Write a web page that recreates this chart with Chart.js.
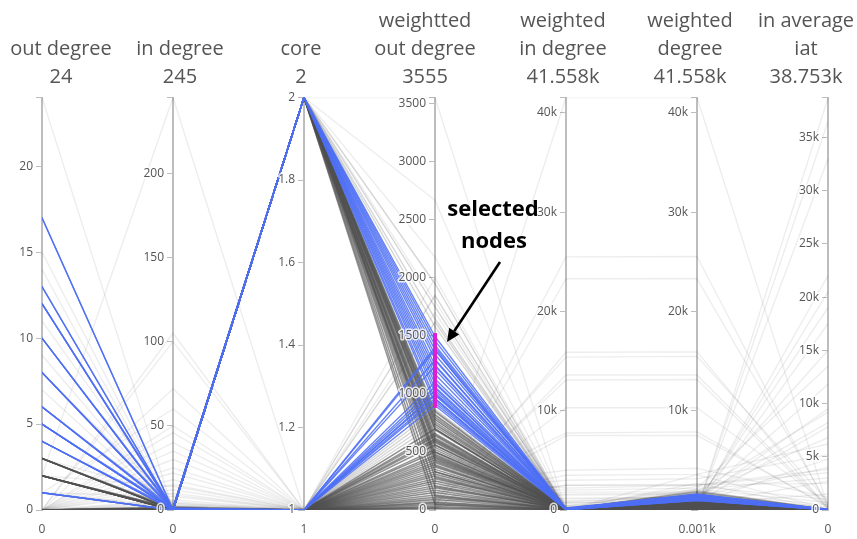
<!DOCTYPE html>
<html>
<head>
<meta charset="utf-8">
<script src="https://cdn.jsdelivr.net/npm/chart.js@4.4.1/dist/chart.umd.min.js"></script>
<style>
  html, body { margin: 0; padding: 0; background: #ffffff; }
  #wrap { width: 857px; height: 539px; }
</style>
</head>
<body>
<div id="wrap"><canvas id="chart" width="857" height="539"></canvas></div>
<script>
// Axis definitions (one entry per parallel axis, left to right)
const axisNames = [["out degree"], ["in degree"], ["core"], ["weightted", "out degree"],
                   ["weighted", "in degree"], ["weighted", "degree"], ["in average", "iat"]];
const axisMin = [0, 0, 1, 0, 0, 1, 0];
const axisMax = [24, 245, 2, 3555, 41558, 41558, 38753];
const tickStep = [5, 50, 0.2, 500, 10000, 10000, 5000];
const thousandsAxis = [false, false, false, false, true, true, true];

// Brushed interval on "weighted out degree"
const brushRange = [880, 1525];

// Each row: out degree, in degree, core, weighted out, weighted in, weighted degree, in average iat
const selectedNodes = [
  [17, 0, 2, 1495, 120, 1615, 30],
  [13, 0, 2, 1460, 80, 1540, 60],
  [12, 1, 2, 1420, 150, 1570, 20],
  [10, 0, 2, 1380, 60, 1440, 45],
  [8, 0, 2, 1340, 200, 1540, 80],
  [6, 1, 2, 1300, 90, 1390, 15],
  [5, 0, 2, 1250, 110, 1360, 35],
  [4, 0, 2, 1210, 40, 1250, 50],
  [4, 1, 2, 1170, 130, 1300, 25],
  [1, 0, 2, 1130, 70, 1200, 10],
  [12, 0, 2, 1090, 160, 1250, 40],
  [8, 1, 2, 1050, 50, 1100, 70],
  [6, 0, 2, 1010, 100, 1110, 30],
  [5, 0, 2, 960, 30, 990, 20],
  [10, 0, 2, 920, 140, 1060, 55],
  [4, 0, 1, 1400, 90, 1490, 40],
  [5, 0, 1, 1380, 60, 1440, 25],
  [1, 0, 1, 1290, 120, 1410, 35],
  [6, 0, 1, 1240, 40, 1280, 60],
  [8, 0, 1, 1100, 80, 1180, 20],
  [10, 1, 1, 1060, 150, 1210, 45],
  [12, 0, 1, 1030, 30, 1060, 15],
  [4, 0, 1, 1000, 110, 1110, 50],
  [13, 0, 1, 990, 60, 1050, 30],
  [17, 0, 1, 960, 20, 980, 10],
  [5, 1, 1, 940, 90, 1030, 40],
  [1, 0, 1, 900, 50, 950, 25]
];

const denseNodes = [
  [0, 0, 2, 850, 40, 890, 20], [0, 0, 2, 800, 100, 900, 60], [3, 0, 2, 760, 20, 780, 10],
  [0, 0, 2, 720, 150, 870, 40], [2, 0, 2, 690, 60, 750, 30], [0, 1, 2, 650, 30, 680, 80],
  [0, 0, 2, 620, 200, 820, 15], [3, 0, 2, 580, 90, 670, 50], [0, 0, 2, 540, 10, 550, 25],
  [2, 1, 2, 500, 120, 620, 70], [0, 0, 2, 460, 50, 510, 35], [0, 0, 2, 420, 80, 500, 20],
  [3, 1, 2, 380, 30, 410, 45], [0, 0, 2, 330, 160, 490, 10], [0, 0, 2, 280, 20, 300, 30],
  [2, 0, 2, 200, 70, 270, 55], [0, 0, 2, 120, 40, 160, 15], [0, 0, 2, 50, 10, 60, 5],
  [0, 0, 2, 600, 40, 640, 25], [0, 0, 2, 560, 120, 680, 45], [0, 0, 2, 700, 30, 730, 18],
  [2, 0, 2, 740, 80, 820, 36], [0, 0, 2, 780, 60, 840, 22], [0, 0, 2, 820, 10, 830, 12],
  [0, 1, 2, 480, 25, 505, 30], [0, 0, 2, 440, 140, 580, 40],
  [0, 0, 1, 700, 60, 760, 30], [0, 0, 1, 660, 20, 680, 10], [2, 0, 1, 610, 110, 720, 45],
  [0, 1, 1, 560, 40, 600, 20], [0, 0, 1, 520, 90, 610, 60], [3, 0, 1, 470, 30, 500, 15],
  [0, 0, 1, 430, 150, 580, 35], [0, 0, 1, 390, 10, 400, 25], [0, 2, 1, 350, 60, 410, 50],
  [2, 0, 1, 310, 20, 330, 10], [0, 0, 1, 270, 80, 350, 40], [0, 0, 1, 230, 30, 260, 20],
  [0, 1, 1, 190, 120, 310, 65], [3, 0, 1, 150, 10, 160, 5], [0, 0, 1, 110, 50, 160, 30],
  [0, 0, 1, 70, 20, 90, 10], [0, 0, 1, 30, 5, 35, 15], [2, 0, 1, 10, 0, 10, 0],
  [0, 0, 1, 20, 10, 30, 5], [0, 0, 1, 45, 0, 45, 10], [0, 1, 1, 60, 30, 90, 20],
  [0, 0, 1, 90, 15, 105, 8], [2, 0, 1, 130, 40, 170, 12], [0, 0, 1, 170, 25, 195, 30],
  [0, 0, 1, 210, 60, 270, 18], [0, 1, 1, 250, 10, 260, 22], [3, 0, 1, 290, 45, 335, 40],
  [0, 0, 1, 330, 20, 350, 12], [0, 0, 1, 370, 70, 440, 28], [0, 0, 1, 410, 35, 445, 16],
  [2, 1, 1, 450, 90, 540, 50], [0, 0, 1, 500, 15, 515, 20], [0, 0, 1, 590, 50, 640, 35],
  [0, 0, 1, 640, 25, 665, 14]
];

const mediumNodes = [
  [0, 0, 2, 870, 30, 900, 40], [1, 0, 2, 840, 90, 930, 20], [0, 0, 2, 790, 20, 810, 60],
  [0, 1, 1, 860, 50, 910, 30], [0, 0, 1, 820, 120, 940, 15], [2, 0, 1, 780, 30, 810, 45],
  [0, 0, 1, 740, 70, 810, 20], [0, 0, 2, 1580, 40, 1620, 35], [1, 0, 2, 1650, 100, 1750, 60],
  [0, 0, 1, 1620, 20, 1640, 25], [0, 0, 2, 1750, 60, 1810, 10], [0, 0, 1, 1850, 30, 1880, 50],
  [3, 0, 2, 1950, 10, 1960, 20]
];

const sparseNodes = [
  [24, 0, 2, 1800, 20, 1820, 150],
  [2, 245, 1, 60, 41558, 41558, 300],
  [0, 105, 1, 40, 25500, 25540, 200],
  [0, 100, 1, 20, 23300, 23320, 500],
  [0, 72, 1, 30, 15900, 15930, 100],
  [1, 60, 1, 80, 15400, 15480, 800],
  [0, 50, 1, 10, 13600, 13610, 300],
  [0, 46, 1, 50, 13100, 13150, 150],
  [0, 40, 1, 0, 10300, 10300, 600],
  [0, 35, 1, 120, 7750, 7870, 250],
  [0, 30, 1, 20, 7500, 7520, 400],
  [0, 25, 1, 200, 4000, 4200, 1200],
  [0, 22, 1, 60, 2500, 2560, 2500],
  [0, 18, 1, 300, 2200, 2500, 3500],
  [0, 15, 1, 150, 3000, 3150, 5200],
  [0, 12, 1, 80, 1500, 1580, 6800],
  [0, 10, 1, 400, 900, 1300, 8200],
  [1, 8, 1, 250, 700, 950, 9500],
  [15, 2, 2, 2670, 30, 2700, 80],
  [14, 0, 2, 2180, 200, 2380, 1000],
  [11, 3, 1, 1700, 400, 2100, 700],
  [9, 1, 1, 2000, 100, 2100, 3000],
  [7, 0, 2, 3555, 10, 3565, 100],
  [0, 2, 1, 5, 0, 5, 38700],
  [1, 0, 1, 20, 30, 50, 36500],
  [0, 1, 1, 10, 60, 70, 33000],
  [2, 0, 1, 100, 200, 300, 22000],
  [0, 0, 1, 50, 500, 550, 20500],
  [3, 1, 1, 150, 300, 450, 17500],
  [1, 1, 1, 80, 1200, 1280, 15000],
  [0, 3, 1, 200, 2000, 2200, 13500],
  [2, 0, 1, 300, 700, 1000, 11800],
  [0, 5, 1, 30, 1800, 1830, 9200],
  [1, 2, 1, 500, 300, 800, 7800],
  [0, 4, 1, 90, 3500, 3590, 6200],
  [4, 0, 1, 600, 100, 700, 4800],
  [0, 6, 1, 20, 2500, 2520, 3800],
  [0, 1, 1, 100, 400, 500, 2700],
  [2, 0, 1, 700, 20, 720, 19000],
  [8, 4, 1, 600, 800, 1400, 300],
  [6, 2, 2, 450, 150, 600, 1500],
  [3, 9, 1, 250, 1100, 1350, 4000],
  [2, 14, 1, 100, 1600, 1700, 500]
];

// Horizontal nudge of each header, in axis units
const headerNudge = [0.145, 0.053, -0.023, -0.076, -0.023, -0.053, -0.168];

const FONT = "'Open Sans', 'Noto Sans', sans-serif";
const TEXT = '#555555';
const AXIS_LINE = '#bdbdbd';

function fmt(i, v) {
  if (thousandsAxis[i] && v !== 0) return +(v / 1000).toFixed(3) + 'k';
  return String(+v.toFixed(3));
}

function onStep(i, v) {
  const r = v / tickStep[i];
  return Math.abs(r - Math.round(r)) < 1e-6;
}

function toPoints(row) {
  return row.map((v, i) => ({ x: i, y: (v - axisMin[i]) / (axisMax[i] - axisMin[i]) }));
}

function group(rows, color, width, order) {
  return rows.map(r => ({
    data: toPoints(r),
    borderColor: color,
    borderWidth: width,
    pointRadius: 0,
    tension: 0,
    fill: false,
    xAxisID: 'x',
    yAxisID: 'yn',
    order: order
  }));
}

const datasets = [].concat(
  group(selectedNodes, 'rgba(78,110,243,0.85)', 1.4, 0),
  group(denseNodes, 'rgba(80,80,80,0.6)', 1.5, 1),
  group(mediumNodes, 'rgba(0,0,0,0.16)', 1.4, 2),
  group(sparseNodes, 'rgba(0,0,0,0.07)', 1.4, 3)
);

const scales = {
  x: {
    type: 'linear', position: 'bottom', min: 0, max: 6,
    grid: { display: false, drawTicks: false },
    border: { display: false },
    afterBuildTicks: s => { s.ticks = axisMin.map((_, i) => ({ value: i })); },
    afterFit: s => { s.height = 29; s.paddingLeft = 0; s.paddingRight = 0; },
    ticks: {
      autoSkip: false, maxRotation: 0, padding: 12, color: TEXT,
      font: { family: FONT, size: 12 },
      callback: (v, idx) => fmt(idx, axisMin[idx])
    }
  },
  xTop: {
    type: 'linear', position: 'top', min: 0, max: 6,
    grid: { display: false, drawTicks: false },
    border: { display: false },
    afterBuildTicks: s => { s.ticks = headerNudge.map((d, i) => ({ value: i + d })); },
    afterFit: s => { s.height = 97.5; s.paddingLeft = 0; s.paddingRight = 0; },
    ticks: {
      autoSkip: false, maxRotation: 0, padding: 6.5, color: TEXT,
      font: { family: FONT, size: 20, lineHeight: 1.4 },
      callback: (v, idx) => axisNames[idx].concat([fmt(idx, axisMax[idx])])
    }
  },
  yn: { type: 'linear', min: 0, max: 1, display: false }
};

axisNames.forEach((_, i) => {
  scales['y' + i] = {
    type: 'linear', axis: 'y', position: { x: i },
    min: axisMin[i], max: axisMax[i],
    grid: { drawOnChartArea: false, drawTicks: true, tickLength: 5, color: AXIS_LINE, lineWidth: 1 },
    border: { display: true, color: AXIS_LINE, width: 2 },
    // ticks on every multiple of the step, plus a plain mark at each end of the axis
    afterBuildTicks: s => {
      const step = tickStep[i];
      const t = [];
      const n0 = Math.ceil(axisMin[i] / step - 1e-9);
      const n1 = Math.floor(axisMax[i] / step + 1e-9);
      if (n0 * step - axisMin[i] > 1e-9) t.push({ value: axisMin[i] });
      for (let n = n0; n <= n1; n++) t.push({ value: +(n * step).toFixed(6) });
      if (axisMax[i] - n1 * step > 1e-9) t.push({ value: axisMax[i] });
      s.ticks = t;
    },
    ticks: { autoSkip: false, display: false }
  };
});

// Tick labels of every parallel axis, left of its line, with a white halo over the lines
const axisLabelPlugin = {
  id: 'axisLabels',
  afterDatasetsDraw(chart) {
    const ctx = chart.ctx;
    const xs = chart.scales.x;
    ctx.save();
    ctx.font = '12px ' + FONT;
    ctx.textAlign = 'right';
    ctx.textBaseline = 'middle';
    ctx.lineJoin = 'round';
    ctx.lineWidth = 3;
    ctx.strokeStyle = 'rgba(255,255,255,0.8)';
    ctx.fillStyle = TEXT;
    axisNames.forEach((_, i) => {
      const ys = chart.scales['y' + i];
      const px = xs.getPixelForValue(i) - 9;
      ys.ticks.forEach(t => {
        if (!onStep(i, t.value) || t.value < axisMin[i]) return;
        const py = ys.getPixelForValue(t.value);
        const label = fmt(i, t.value);
        ctx.strokeText(label, px, py);
        ctx.fillText(label, px, py);
      });
    });
    ctx.restore();
  }
};

// Brush marker and "selected nodes" callout
const calloutPlugin = {
  id: 'callout',
  afterDraw(chart) {
    const ctx = chart.ctx;
    const ys = chart.scales.y3;
    const x = chart.scales.x.getPixelForValue(3);
    const yTop = ys.getPixelForValue(brushRange[1]);
    const yBot = ys.getPixelForValue(brushRange[0]);
    ctx.save();
    ctx.fillStyle = '#e11cd5';
    ctx.fillRect(x - 2, yTop, 4, yBot - yTop);

    ctx.fillStyle = '#000000';
    ctx.font = "bold 22px " + FONT;
    ctx.textAlign = 'center';
    ctx.textBaseline = 'middle';
    ctx.fillText('selected', x + 58, 210);
    ctx.fillText('nodes', x + 59, 242);

    const sx = x + 65, sy = 262, ex = x + 12, ey = 342;
    const ang = Math.atan2(ey - sy, ex - sx);
    const head = 13, half = 6;
    const bx = ex - head * Math.cos(ang), by = ey - head * Math.sin(ang);
    ctx.strokeStyle = '#000000';
    ctx.lineWidth = 2.6;
    ctx.beginPath();
    ctx.moveTo(sx, sy);
    ctx.lineTo(bx, by);
    ctx.stroke();
    ctx.beginPath();
    ctx.moveTo(ex, ey);
    ctx.lineTo(bx + half * Math.sin(ang), by - half * Math.cos(ang));
    ctx.lineTo(bx - half * Math.sin(ang), by + half * Math.cos(ang));
    ctx.closePath();
    ctx.fill();
    ctx.restore();
  }
};

new Chart(document.getElementById('chart'), {
  type: 'line',
  data: { datasets: datasets },
  options: {
    responsive: false,
    animation: false,
    devicePixelRatio: 1,
    layout: { padding: { left: 42, right: 29, top: 0, bottom: 0 } },
    plugins: { legend: { display: false }, tooltip: { enabled: false } },
    elements: { line: { borderCapStyle: 'round', borderJoinStyle: 'round' } },
    scales: scales
  },
  plugins: [axisLabelPlugin, calloutPlugin]
});
</script>
</body>
</html>
